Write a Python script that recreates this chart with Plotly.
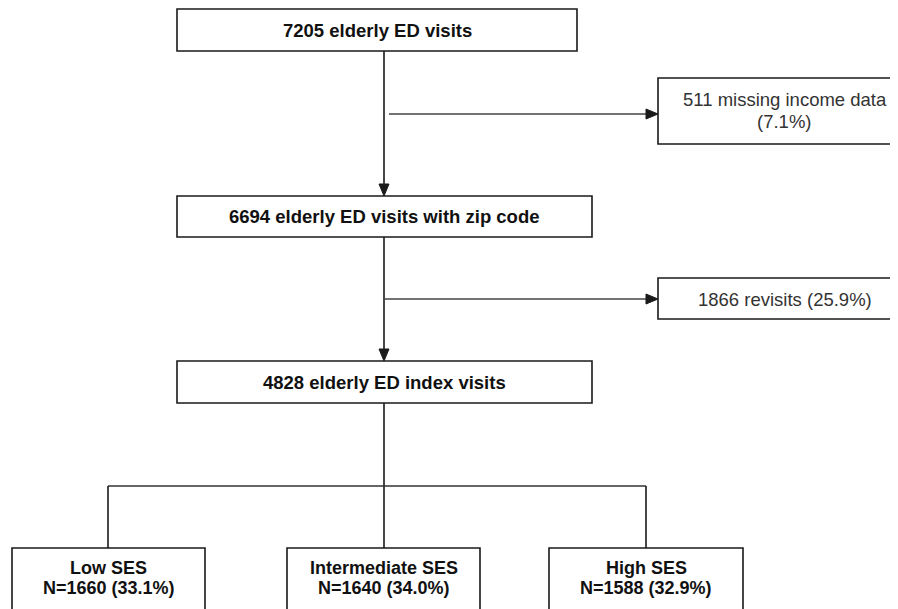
import plotly.graph_objects as go

# ---- data ----
main_counts = [7205, 6694, 4828]
main_labels = ["7205 elderly ED visits",
               "6694 elderly ED visits with zip code",
               "4828 elderly ED index visits"]
excl_lines = [["511 missing income data", "(7.1%)"], ["1866 revisits (25.9%)"]]
group_names = ["Low SES", "Intermediate SES", "High SES"]
group_n = [1660, 1640, 1588]
group_pct = ["33.1%", "34.0%", "32.9%"]

# ---- layout geometry (screen pixels) ----
W, H = 898, 609
OFF = 8  # page body margin
main_boxes = [(177, 577, 9, 51), (177, 592, 196, 237), (177, 592, 361, 403)]
excl_boxes = [(658, 911, 78, 144), (658, 911, 278, 319)]
excl_text_y = [[99, 121], [299]]
group_boxes = [(12, 205, 548, 620), (287, 480, 548, 620), (549, 743, 548, 620)]
group_text_y = [568, 588]
cx = 384
LC = "#1a1a1a"
LW = 1.6

fig = go.Figure()
shapes = []
ann = []

def rect(b):
    shapes.append(dict(type="rect", xref="x", yref="y", x0=b[0], x1=b[1], y0=b[2], y1=b[3],
                       line=dict(color=LC, width=LW), fillcolor="white", layer="above"))

def line(x0, y0, x1, y1, color=LC):
    shapes.append(dict(type="line", xref="x", yref="y", x0=x0, y0=y0, x1=x1, y1=y1,
                       line=dict(color=color, width=LW), layer="below"))

def arrow_down(x, y):
    shapes.append(dict(type="path", xref="x", yref="y",
                       path=f"M{x-5},{y-12} L{x+5},{y-12} L{x},{y} Z",
                       fillcolor=LC, line=dict(color=LC, width=1), layer="above"))

def arrow_right(x, y):
    shapes.append(dict(type="path", xref="x", yref="y",
                       path=f"M{x-12},{y-5} L{x-12},{y+5} L{x},{y} Z",
                       fillcolor=LC, line=dict(color=LC, width=1), layer="above"))

# vertical flow lines
line(cx, main_boxes[0][3], cx, main_boxes[1][2] - 10)
arrow_down(cx, main_boxes[1][2])
line(cx, main_boxes[1][3], cx, main_boxes[2][2] - 10)
arrow_down(cx, main_boxes[2][2])
line(cx, main_boxes[2][3], cx, 486)

# exclusion arrows
ex_y = [114, 299]
ex_x0 = [389, cx]
for i, b in enumerate(excl_boxes):
    line(ex_x0[i], ex_y[i], b[0] - 10, ex_y[i], color="#444")
    arrow_right(b[0], ex_y[i])

# group split
line(108, 486, 646, 486, color="#333")
for x, b in zip([108, cx, 646], group_boxes):
    line(x, 486, x, b[2])

for b in main_boxes + excl_boxes + group_boxes:
    rect(b)

BOLD = dict(family="Liberation Sans, Arial, sans-serif", size=18.5, color="#111")
REG = dict(family="Liberation Sans, Arial, sans-serif", size=18.5, color="#333")

for lab, b in zip(main_labels, main_boxes):
    ann.append(dict(x=(b[0] + b[1]) / 2, y=(b[2] + b[3]) / 2, text=f"<b>{lab}</b>",
                    showarrow=False, xref="x", yref="y", font=BOLD))
for lines, ys, b in zip(excl_lines, excl_text_y, excl_boxes):
    for t, y in zip(lines, ys):
        ann.append(dict(x=(b[0] + b[1]) / 2, y=y, text=t,
                        showarrow=False, xref="x", yref="y", font=REG))
for nm, n, p, b in zip(group_names, group_n, group_pct, group_boxes):
    gx = (b[0] + b[1]) / 2
    ann.append(dict(x=gx, y=group_text_y[0], text=f"<b>{nm}</b>",
                    showarrow=False, xref="x", yref="y", font=dict(BOLD, size=18)))
    ann.append(dict(x=gx, y=group_text_y[1], text=f"<b>N={n} ({p})</b>",
                    showarrow=False, xref="x", yref="y", font=dict(BOLD, size=18)))

fig.update_layout(
    width=W, height=H, margin=dict(l=0, r=0, t=0, b=0),
    paper_bgcolor="white", plot_bgcolor="white",
    xaxis=dict(range=[OFF, W + OFF], visible=False, fixedrange=True),
    yaxis=dict(range=[H + OFF, OFF], visible=False, fixedrange=True),
    shapes=shapes, annotations=ann, showlegend=False,
)
fig.write_html("out.html")
